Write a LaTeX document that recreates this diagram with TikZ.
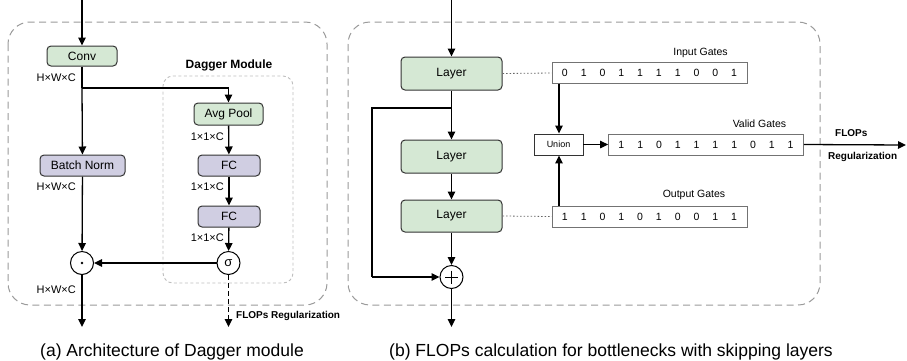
\documentclass[tikz,border=0pt]{standalone}
\usepackage{fontspec}
\setmainfont{Liberation Sans}
\usetikzlibrary{arrows.meta,calc}
\definecolor{gfill}{HTML}{D5E8D4}
\definecolor{pfill}{HTML}{D0CEE2}
\definecolor{dgray}{HTML}{9A9A9A}
\definecolor{lgray}{HTML}{BDBDBD}
\newcommand\gdig[1]{\makebox[18.8pt]{#1}}
\begin{document}
\begin{tikzpicture}[x=1pt,y=-1pt,
  blk/.style={draw=black!80, line width=1pt, rounded corners=4pt, inner sep=0pt, font=\fontsize{12}{14}\selectfont},
  gblk/.style={blk, fill=gfill},
  pblk/.style={blk, fill=pfill},
  con/.style={line width=1.3pt, -{Triangle[length=8pt,width=7.5pt]}},
  plain/.style={line width=1.3pt},
  op/.style={draw, circle, line width=1pt, minimum size=23pt, inner sep=0pt, fill=white},
  dimlab/.style={font=\fontsize{11}{13}\selectfont, inner sep=0pt, anchor=east},
  gate/.style={draw=black!55, line width=0.8pt, minimum width=195pt, minimum height=21pt, inner sep=0pt, font=\fontsize{10.5}{12}\selectfont},
  glabel/.style={font=\fontsize{10.5}{12}\selectfont, inner sep=0pt},
  boldlab/.style={font=\fontsize{10}{12}\selectfont\bfseries, inner sep=0pt},
  outer/.style={draw=dgray, line width=1pt, dash pattern=on 7pt off 4.5pt, rounded corners=22pt},
  inner/.style={draw=lgray, line width=0.9pt, dash pattern=on 3pt off 2.5pt, rounded corners=10pt},
  caption/.style={font=\fontsize{17.5}{20}\selectfont, inner sep=0pt, anchor=base},
  dotted link/.style={draw=black!60, line width=0.8pt, dash pattern=on 1.5pt off 2pt}
]
\useasboundingbox (0,0) rectangle (907,360);

% ---------------- Panel (a) ----------------
\draw[outer] (8,22) rectangle (327,305);
\draw[inner] (163,76) rectangle (293,283);
\node[font=\fontsize{12}{14}\selectfont\bfseries, inner sep=0pt] (dagtitle) at (229,65) {Dagger Module};

\coordinate (inA) at (82,0);
\node[gblk, minimum width=70pt, minimum height=20pt] (conv) at (82,56) {Conv};
\node[pblk, minimum width=85pt, minimum height=21pt] (bn) at (82.5,165.5) {Batch Norm};
\node[gblk, minimum width=69pt, minimum height=22pt] (avg) at (228.5,114) {Avg Pool};
\node[pblk, minimum width=62pt, minimum height=21pt] (fc1) at (229,165.5) {FC};
\node[pblk, minimum width=62pt, minimum height=21pt] (fc2) at (229,216.5) {FC};
\node[op, font=\fontsize{13}{14}\selectfont] (sig) at (228.5,263) {σ};
\node[op] (dot) at (82,263) {};
\fill (dot.center) circle (1.3pt);
\coordinate (split) at (82,88);
\coordinate (turn) at (228.5,88);
\coordinate (outA) at (82,327);
\coordinate (regA) at (228.5,327);

\draw[con] (inA) -- (conv);
\draw[plain] (conv) -- (split);
\draw[con] (split) -- (bn);
\draw[plain] (split) -- (turn);
\draw[con] (turn) -- (avg);
\draw[con] (avg) -- (fc1);
\draw[con] (fc1) -- (fc2);
\draw[con] (fc2) -- (sig);
\draw[con] (bn) -- (dot);
\draw[con] (sig) -- (dot);
\draw[con] (dot) -- (outA);
\draw[line width=1.3pt, dash pattern=on 5pt off 3pt, -{Triangle[length=8pt,width=7.5pt]}] (sig) -- (regA);

\node[dimlab] (d1) at (76,78) {H×W×C};
\node[dimlab] (d2) at (76,187) {H×W×C};
\node[dimlab] (d3) at (76,290) {H×W×C};
\node[dimlab] (d4) at (224,137) {1×1×C};
\node[dimlab] (d5) at (224,187) {1×1×C};
\node[dimlab] (d6) at (224,238) {1×1×C};
\node[boldlab, anchor=west] (regAlab) at (236,316) {FLOPs Regularization};

\node[caption] (capA) at (172,356) {(a) Architecture of Dagger module};

% ---------------- Panel (b) ----------------
\draw[outer] (348,22) rectangle (820,305);

\coordinate (inB) at (451.5,0);
\node[gblk, minimum width=101pt, minimum height=33pt] (l1) at (451.5,73.5) {Layer};
\node[gblk, minimum width=101pt, minimum height=33pt] (l2) at (451.5,156.5) {Layer};
\node[gblk, minimum width=101pt, minimum height=32pt] (l3) at (451.5,216) {Layer};
\node[op] (plus) at (451.5,277) {};
\draw[line width=1pt] ($(plus.center)+(-6.5,0)$) -- ($(plus.center)+(6.5,0)$)
                        ($(plus.center)+(0,-6.5)$) -- ($(plus.center)+(0,6.5)$);
\coordinate (skipA) at (451.5,108);
\coordinate (skipB) at (372,108);
\coordinate (skipC) at (372,277);
\coordinate (outB) at (451.5,327);

\draw[con] (inB) -- (l1);
\draw[con] (l1) -- (l2);
\draw[con] (l2) -- (l3);
\draw[con] (l3) -- (plus);
\draw[plain] (skipA) -- (skipB) -- (skipC);
\draw[con] (skipC) -- (plus);
\draw[con] (plus) -- (outB);

\node[gate] (ig) at (649.5,73) {\gdig0\gdig1\gdig0\gdig1\gdig1\gdig1\gdig1\gdig0\gdig0\gdig1};
\node[gate] (og) at (649.5,216.5) {\gdig1\gdig1\gdig0\gdig1\gdig0\gdig1\gdig0\gdig0\gdig1\gdig1};
\node[gate] (vg) at (706,144.5) {\gdig1\gdig1\gdig0\gdig1\gdig1\gdig1\gdig1\gdig0\gdig1\gdig1};
\node[draw=black!80, line width=0.9pt, minimum width=49pt, minimum height=21pt, inner sep=0pt, font=\fontsize{9}{10}\selectfont] (union) at (558.5,144.5) {Union};

\node[glabel] (igl) at (700.5,53) {Input Gates};
\node[glabel] (vgl) at (759.5,124) {Valid Gates};
\node[glabel] (ogl) at (694,195) {Output Gates};

\draw[dotted link] (l1.east) -- (ig.west);
\draw[dotted link] (l3.east) -- (og.west);

\coordinate (igdown) at (559,83.5);
\coordinate (ogup) at (559,206);
\draw[con] (igdown) -- (union.north -| igdown);
\draw[con] (ogup) -- (union.south -| ogup);
\draw[con] (union) -- (vg);

\coordinate (regB) at (906,145);
\draw[con] (vg.east) -- (regB);
\node[boldlab, anchor=west] (flopsB) at (835,133) {FLOPs};
\node[boldlab, anchor=west] (regBlab) at (828,157) {Regularization};

\node[caption] (capB) at (611,356) {(b) FLOPs calculation for bottlenecks with skipping layers};
\end{tikzpicture}
\end{document}
